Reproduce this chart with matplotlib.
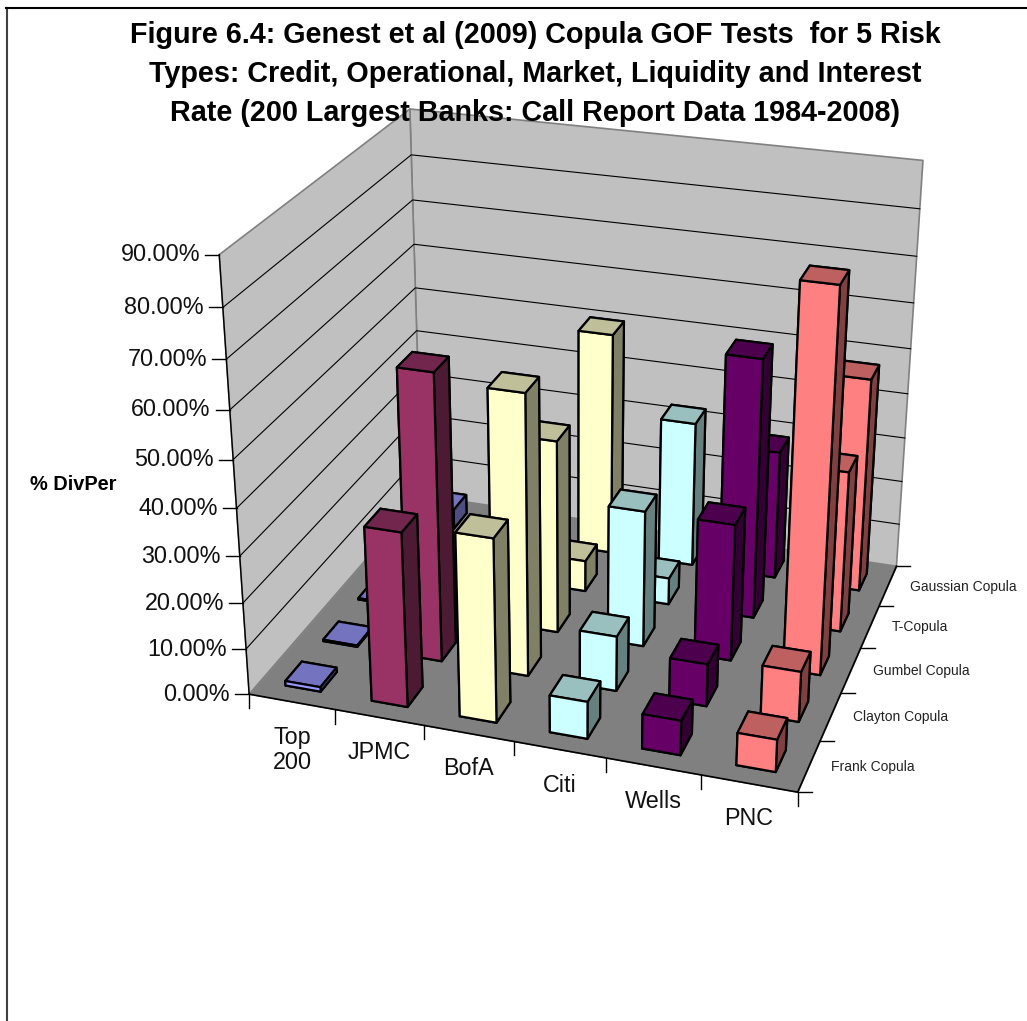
import numpy as np
import matplotlib
matplotlib.use("Agg")
import matplotlib.pyplot as plt
from matplotlib.lines import Line2D
from mpl_toolkits.mplot3d import proj3d
from mpl_toolkits.mplot3d.art3d import Poly3DCollection

plt.rcParams["font.family"] = ["Liberation Sans", "DejaVu Sans"]

title_lines = [
    "Figure 6.4: Genest et al (2009) Copula GOF Tests  for 5 Risk",
    "Types: Credit, Operational, Market, Liquidity and Interest",
    "Rate (200 Largest Banks: Call Report Data 1984-2008)",
]
banks = ["Top\n200", "JPMC", "BofA", "Citi", "Wells", "PNC"]
copulas = ["Frank Copula", "Clayton Copula", "Gumbel Copula", "T-Copula", "Gaussian Copula"]
z_ticks = [0, 10, 20, 30, 40, 50, 60, 70, 80, 90]

# % per bank, same order as copulas
top200 = [1.0, 0.3, 0.3, 0.3, 4.5]
jpmc = [37.4, 62.0, 4.0, 1.0, 1.0]
bofa = [39.1, 60.3, 42.4, 7.0, 50.4]
citi = [8.0, 12.0, 30.0, 6.0, 32.9]
wells = [7.4, 9.2, 30.0, 57.2, 29.0]
pnc = [6.9, 10.9, 81.5, 35.6, 47.8]
values = [top200, jpmc, bofa, citi, wells, pnc]

front_colors = ["#9999FF", "#993366", "#FFFFCC", "#CCFFFF", "#660066", "#FF8080"]

W, H = 1027, 1021
n_x, n_y = len(banks), len(copulas)
z_top = z_ticks[-1]

# camera calibration: plot box corners -> pixel positions in the picture
box_corners = [
    (0, 0, 0), (n_x, 0, 0), (n_x, n_y, 0), (0, n_y, 0),
    (0, 0, z_top), (0, n_y, z_top), (n_x, n_y, z_top),
]
box_pixels = [
    (250, 694), (797, 793), (897, 565), (421, 496),
    (219, 254), (410, 109), (923, 161),
]


def fit_projection(pts, px):
    rows = []
    for (x, y, z), (u, v) in zip(pts, px):
        rows.append([x, y, z, 1, 0, 0, 0, 0, -u * x, -u * y, -u * z, -u])
        rows.append([0, 0, 0, 0, x, y, z, 1, -v * x, -v * y, -v * z, -v])
    p = np.linalg.svd(np.array(rows, dtype=float))[2][-1].reshape(3, 4)
    p = p / p[2, 3]
    depth = p[2] - np.array([0, 0, 0, 0.5])
    return np.vstack([p[0], p[1], depth, p[2]])


M = fit_projection(box_corners, box_pixels)

fig = plt.figure(figsize=(W / 100, H / 100), dpi=100, facecolor="white")
ax = fig.add_axes([0, 0, 1, 1], projection="3d")
ax.get_proj = lambda: M
ax.apply_aspect = lambda position=None: None
ax._focal_length = np.inf  # no camera clipping, M already holds the perspective
ax.set_axis_off()
ax.computed_zorder = False
ax.patch.set_alpha(0)
ax.viewLim.intervalx = (0, W)
ax.viewLim.intervaly = (H, 0)


def to_px(x, y, z):
    u, v, _ = proj3d.proj_transform(x, y, z, M)
    return float(u), float(v)


def px_text(u, v, s, **kw):
    fig.text(u / W, 1 - v / H, s, **kw)


def px_line(u0, v0, u1, v1, color="black", lw=1.0):
    fig.add_artist(Line2D([u0 / W, u1 / W], [1 - v0 / H, 1 - v1 / H], color=color, lw=lw,
                          transform=fig.transFigure, zorder=1))


# walls and floor
left_wall = [(0, 0, 0), (0, n_y, 0), (0, n_y, z_top), (0, 0, z_top)]
back_wall = [(0, n_y, 0), (n_x, n_y, 0), (n_x, n_y, z_top), (0, n_y, z_top)]
floor = [(0, 0, 0), (n_x, 0, 0), (n_x, n_y, 0), (0, n_y, 0)]
walls = Poly3DCollection([left_wall, back_wall], facecolors="#C0C0C0", edgecolors="#808080",
                         linewidths=1.2, zorder=1)
ax.add_collection3d(walls, autolim=False)
ground = Poly3DCollection([floor], facecolors="#808080", edgecolors="#808080", linewidths=0.5, zorder=2)
ax.add_collection3d(ground, autolim=False)

for t in z_ticks[1:-1]:
    ax.plot([0, 0, n_x], [0, n_y, n_y], [t, t, t], color="black", lw=0.8, zorder=3)

# axis lines
ax.plot([0, 0], [0, 0], [0, z_top], color="black", lw=1.0, zorder=3)
ax.plot([0, n_x, n_x], [0, 0, n_y], [0, 0, 0], color="black", lw=1.2, zorder=3)

# bars, back to front
bar_w = 0.41
bar_d = 0.43
order = 10
for j in range(n_y - 1, -1, -1):
    for i in range(n_x):
        c = np.array(matplotlib.colors.to_rgb(front_colors[i]))
        # faces: bottom, top, front, back, left, right
        face = [c * 0.5, c * 0.75, c, c * 0.5, c * 0.5, c * 0.5]
        ax.bar3d(i + (1 - bar_w) / 2, j + (1 - bar_d) / 2, 0, bar_w, bar_d, values[i][j],
                 color=face, shade=False, edgecolor="black", linewidth=1.6, zorder=order)
        order += 1

# ticks and labels
for t in z_ticks:
    u, v = to_px(0, 0, t)
    px_line(u - 14, v, u, v)
    px_text(u - 19, v, f"{t:.2f}%", ha="right", va="center", fontsize=16.8, color="#111111")

for i in range(n_x + 1):
    u, v = to_px(i, 0, 0)
    px_line(u, v, u, v + 14)
for i, name in enumerate(banks):
    u, v = to_px(i + 0.5, 0, 0)
    px_text(u, v + 24, name, ha="center", va="top", fontsize=16.8, color="#111111", linespacing=1.1)

for j in range(n_y + 1):
    u, v = to_px(n_x, j, 0)
    px_line(u, v, u + 14, v)
for j, name in enumerate(copulas):
    u, v = to_px(n_x, j + 0.5, 0)
    px_text(u + 22, v + 1, name, ha="left", va="center", fontsize=10, color="#222222")

px_text(73, 484, "% DivPer", ha="center", va="center", fontsize=14.4, fontweight="bold")

for k, line in enumerate(title_lines):
    px_text(535, 35 + 39 * k, line, ha="center", va="center", fontsize=20.7, fontweight="bold")

# chart frame
px_line(6.5, 8, 6.5, H, color="#404040", lw=1.5)
px_line(6, 8.5, W, 8.5, color="black", lw=1.5)

fig.savefig("out.png", dpi=100)
